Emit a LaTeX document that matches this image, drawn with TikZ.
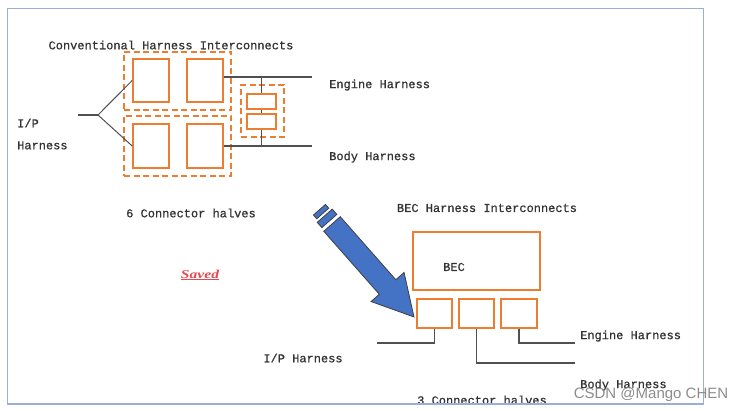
\documentclass[tikz,border=0pt]{standalone}
\usepackage{fontspec}
\newfontfamily\labelfont[FakeBold=0.8]{Liberation Mono}
\newfontfamily\savedfont{Liberation Serif}
\newfontfamily\markfont{Liberation Sans}
\usepackage{xcolor}
\usepackage{tikz}
\usetikzlibrary{arrows.meta,positioning}

\definecolor{conorange}{HTML}{ED7D31}
\definecolor{wiregray}{HTML}{505050}
\definecolor{frameblue}{HTML}{9AAFD6}
\definecolor{arrowblue}{HTML}{4472C4}
\definecolor{savedred}{HTML}{E5484F}

\begin{document}
\begin{tikzpicture}[
    x=1pt, y=-1pt,
    txt/.style={font=\labelfont\fontsize{12}{14}\selectfont,text=black!80,inner sep=0pt},
    conbox/.style={rectangle,draw=conorange,line width=1.6pt,inner sep=0pt},
    groupbox/.style={rectangle,draw=conorange,line width=1.6pt,dash pattern=on 6pt off 3.5pt,inner sep=0pt},
    wire/.style={draw=wiregray,line width=1.2pt}
]
\useasboundingbox (0,0) rectangle (744,411);

% conventional harness interconnects
\node[txt] (title1) at (171,45) {Conventional Harness Interconnects};
\node[groupbox,minimum width=107pt,minimum height=58pt] (gtop) at (177.5,81) {};
\node[groupbox,minimum width=107pt,minimum height=60pt] (gbot) at (177.5,146) {};
\node[conbox,minimum width=36pt,minimum height=43pt] (ctl) at (151,80.5) {};
\node[conbox,minimum width=36pt,minimum height=43pt] (ctr) at (205,80.5) {};
\node[conbox,minimum width=36pt,minimum height=44pt] (cbl) at (151,146) {};
\node[conbox,minimum width=36pt,minimum height=44pt] (cbr) at (205,146) {};
\node[groupbox,minimum width=43pt,minimum height=52pt] (gsplice) at (262.5,111) {};
\node[conbox,minimum width=29pt,minimum height=15pt] (sp1) at (261.5,101.5) {};
\node[conbox,minimum width=29pt,minimum height=15pt] (sp2) at (261.5,121.5) {};

\coordinate (ipend) at (78,115);
\coordinate (fork) at (98,115);
\coordinate (engend) at (312,77);
\coordinate (bodyend) at (312,146);
\draw[wire] (ipend) -- (fork);
\draw[wire,line width=1pt] (fork) -- (ctl.west);
\draw[wire,line width=1pt] (fork) -- (cbl.west);
\draw[wire] (ctr.east |- engend) -- (engend);
\draw[wire] (cbr.east |- bodyend) -- (bodyend);
\draw[wire] (sp1.north) -- (sp1.north |- engend);
\draw[wire] (sp1.south) -- (sp2.north);
\draw[wire] (sp2.south) -- (sp2.south |- bodyend);

\node[txt,align=left,anchor=west,font=\labelfont\fontsize{12}{22}\selectfont] (ip1) at (17,134) {I/P\\Harness};
\node[txt,anchor=west] (eng1) at (329,85) {Engine Harness};
\node[txt,anchor=west] (body1) at (329,157) {Body Harness};
\node[txt] (halves1) at (191,213) {6 Connector halves};
\node[inner sep=0pt,text=savedred,font=\savedfont\fontsize{12}{14}\selectfont] (saved) at (200,275)
  {\scalebox{1.3}[1]{\bfseries\itshape\underline{Saved}}};

% BEC harness interconnects
\node[txt] (title2) at (487,208) {BEC Harness Interconnects};
\node[conbox,minimum width=127pt,minimum height=58pt] (bec) at (476.5,261) {};
\node[txt] (beclabel) at (454,267) {BEC};
\node[conbox,minimum width=35pt,minimum height=29pt] (b1) at (434.5,313.5) {};
\node[conbox,minimum width=35pt,minimum height=29pt] (b2) at (476.5,313.5) {};
\node[conbox,minimum width=36pt,minimum height=29pt] (b3) at (519,313.5) {};

\coordinate (ipl2) at (377,343);
\coordinate (engl2) at (575,343);
\coordinate (bodyl2) at (575,363);
\draw[wire] (b1.south) |- (ipl2);
\draw[wire] (b2.south) |- (bodyl2);
\draw[wire] (b3.south) |- (engl2);

\node[txt,anchor=west] (eng2) at (580,336) {Engine Harness};
\node[txt,anchor=west] (body2) at (580,385) {Body Harness};
\node[txt] (ip2) at (303,358) {I/P Harness};
\node[txt] (halves2) at (482,400) {3 Connector halves};

% block arrow
\begin{scope}[shift={(414,317)},rotate=131.4,draw=black!75,fill=arrowblue,line width=0.8pt]
  \filldraw (0,0) -- (40,22) -- (40,11) -- (124,11) -- (124,-11) -- (40,-11) -- (40,-22) -- cycle;
  \filldraw (128,10) rectangle (135,-10);
  \filldraw (138,8) rectangle (143,-8);
\end{scope}

% frame and mark
\draw[frameblue,line width=1.5pt] (7.5,8.5) rectangle (703.5,404);
\node[inner sep=0pt,text=black!45,font=\markfont\fontsize{15}{17}\selectfont] (mark) at (651,395) {CSDN @Mango CHEN};
\end{tikzpicture}
\end{document}
